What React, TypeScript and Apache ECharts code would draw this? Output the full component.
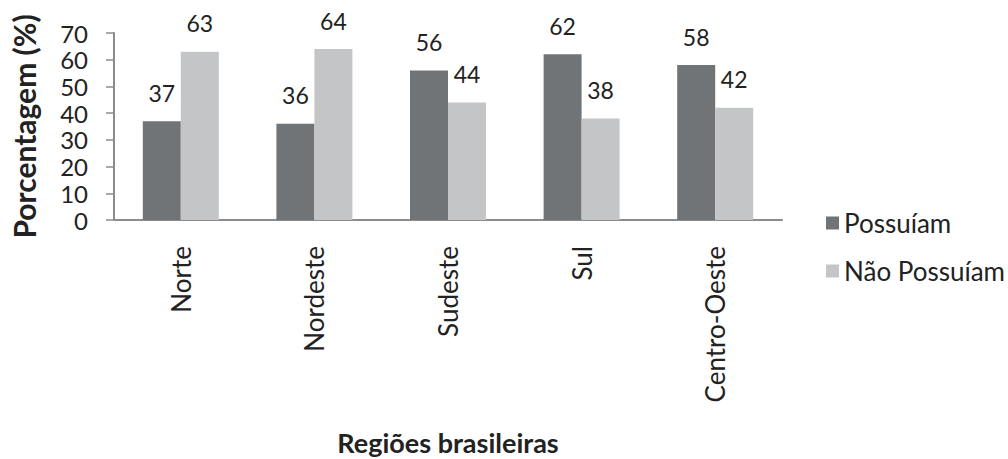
import React, { useEffect, useRef } from "react";
import * as echarts from "echarts";

const categories = ["Norte", "Nordeste", "Sudeste", "Sul", "Centro-Oeste"];
const possuiam = [37, 36, 56, 62, 58];
const naoPossuiam = [63, 64, 44, 38, 42];
const seriesNames = ["Possuíam", "Não Possuíam"];

const FONT = "Lato, 'Open Sans', sans-serif";

export default function App() {
  const ref = useRef<HTMLDivElement>(null);
  useEffect(() => {
    if (!ref.current) return;
    const chart = echarts.init(ref.current, null, { renderer: "svg" });
    const labelStyle = {
      show: true,
      position: "top" as const,
      distance: 17,
      fontSize: 23,
      color: "#222",
      fontFamily: FONT,
    };
    chart.setOption({
      animation: false,
      backgroundColor: "#ffffff",
      textStyle: { fontFamily: FONT },
      grid: { left: 114, top: 33, right: 226, bottom: 239, containLabel: false },
      legend: {
        orient: "vertical",
        left: 821,
        top: 205,
        itemWidth: 13,
        itemHeight: 13,
        itemGap: 22,
        icon: "rect",
        textStyle: { fontSize: 26, color: "#222", fontFamily: FONT },
        data: seriesNames,
      },
      xAxis: {
        type: "category",
        data: categories,
        axisLine: { show: true, lineStyle: { color: "#8c8c8c", width: 2 } },
        axisTick: { show: false },
        axisLabel: {
          rotate: 90,
          margin: 26,
          fontSize: 26,
          color: "#222",
          fontFamily: FONT,
          interval: 0,
        },
        name: "Regiões brasileiras",
        nameLocation: "middle",
        nameGap: 209,
        nameTextStyle: { fontSize: 27, fontWeight: "bold", color: "#222", fontFamily: FONT },
      },
      yAxis: {
        type: "value",
        min: 0,
        max: 70,
        interval: 10,
        splitLine: { show: false },
        axisLine: { show: true, lineStyle: { color: "#8c8c8c", width: 2 } },
        axisTick: { show: true, length: 8, lineStyle: { color: "#8c8c8c", width: 1.5 } },
        axisLabel: { fontSize: 24, color: "#222", margin: 26, fontFamily: FONT },
        name: "Porcentagem (%)",
        nameLocation: "middle",
        nameGap: 75,
        nameTextStyle: { fontSize: 30, fontWeight: "bold", color: "#222", fontFamily: FONT },
      },
      series: [
        {
          name: seriesNames[0],
          type: "bar",
          data: possuiam,
          barWidth: 38,
          barGap: "0%",
          itemStyle: { color: "#707476" },
          label: labelStyle,
        },
        {
          name: seriesNames[1],
          type: "bar",
          data: naoPossuiam,
          barWidth: 38,
          barGap: "0%",
          itemStyle: { color: "#c3c5c7" },
          label: labelStyle,
        },
      ],
    });
    return () => chart.dispose();
  }, []);
  return (
    <div
      ref={ref}
      style={{ position: "fixed", left: 0, top: 0, width: 1008, height: 459 }}
    />
  );
}
